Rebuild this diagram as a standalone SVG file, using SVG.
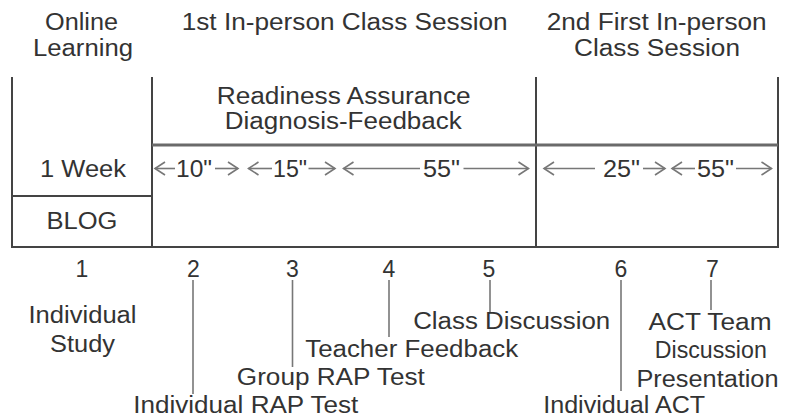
<svg xmlns="http://www.w3.org/2000/svg" width="785" height="418" viewBox="0 0 785 418">
<style>
text{font-family:"Liberation Sans",Arial,sans-serif;font-size:23px;fill:#333;text-anchor:middle}
.frame{stroke:#444;stroke-width:2;fill:none}
.band{stroke:#6a6a6a;stroke-width:3;fill:none}
.arr{stroke:#777;stroke-width:1.6;fill:none}
.lead{stroke:#777;stroke-width:1.6;fill:none}
</style>
<defs>
<marker id="head" markerUnits="userSpaceOnUse" markerWidth="14" markerHeight="16" viewBox="-11 -8 14 16" refX="0" refY="0" orient="auto-start-reverse">
<path d="M-10,-6.5 L0,0 L-10,6.5" fill="none" stroke="#777" stroke-width="1.6"/>
</marker>
</defs>
<g id="frame">
<line class="frame" x1="12" y1="77" x2="12" y2="248"/>
<line class="frame" x1="152" y1="77" x2="152" y2="248"/>
<line class="frame" x1="536" y1="77" x2="536" y2="248"/>
<line class="frame" x1="778" y1="77" x2="778" y2="248"/>
<line class="band" x1="152" y1="145" x2="778" y2="145"/>
<line class="frame" x1="12" y1="196" x2="152" y2="196"/>
<line class="frame" x1="11" y1="247" x2="779" y2="247"/>
</g>
<g id="headers">
<text x="81.5" y="30" textLength="73" lengthAdjust="spacingAndGlyphs">Online</text>
<text x="83" y="56" textLength="100" lengthAdjust="spacingAndGlyphs">Learning</text>
<text x="344.7" y="30" textLength="326" lengthAdjust="spacingAndGlyphs">1st In-person Class Session</text>
<text x="656.7" y="30" textLength="220" lengthAdjust="spacingAndGlyphs">2nd First In-person</text>
<text x="657" y="56" textLength="166" lengthAdjust="spacingAndGlyphs">Class Session</text>
</g>
<g id="readiness">
<text x="343.7" y="104" textLength="254" lengthAdjust="spacingAndGlyphs">Readiness Assurance</text>
<text x="343.3" y="129" textLength="237" lengthAdjust="spacingAndGlyphs">Diagnosis-Feedback</text>
</g>
<g id="week">
<text x="83" y="177" textLength="86" lengthAdjust="spacingAndGlyphs">1 Week</text>
</g>
<g id="blog">
<text x="82" y="229" textLength="71" lengthAdjust="spacingAndGlyphs">BLOG</text>
</g>
<g id="durations">
<text x="194" y="177" textLength="36" lengthAdjust="spacingAndGlyphs">10"</text>
<text x="290" y="177" textLength="34" lengthAdjust="spacingAndGlyphs">15"</text>
<text x="441.5" y="177" textLength="37" lengthAdjust="spacingAndGlyphs">55"</text>
<text x="621.5" y="177" textLength="37" lengthAdjust="spacingAndGlyphs">25"</text>
<text x="715.5" y="177" textLength="37" lengthAdjust="spacingAndGlyphs">55"</text>
</g>
<g id="connectors">
<line class="arr" x1="175" y1="168.5" x2="155" y2="168.5" marker-end="url(#head)"/>
<line class="arr" x1="215" y1="168.5" x2="238" y2="168.5" marker-end="url(#head)"/>
<line class="arr" x1="272" y1="168.5" x2="248.5" y2="168.5" marker-end="url(#head)"/>
<line class="arr" x1="308.5" y1="168.5" x2="335" y2="168.5" marker-end="url(#head)"/>
<line class="arr" x1="420" y1="168.5" x2="343.5" y2="168.5" marker-end="url(#head)"/>
<line class="arr" x1="463.5" y1="168.5" x2="528.5" y2="168.5" marker-end="url(#head)"/>
<line class="arr" x1="595" y1="168.5" x2="544" y2="168.5" marker-end="url(#head)"/>
<line class="arr" x1="643" y1="168.5" x2="665" y2="168.5" marker-end="url(#head)"/>
<line class="arr" x1="695" y1="168.5" x2="672" y2="168.5" marker-end="url(#head)"/>
<line class="arr" x1="736" y1="168.5" x2="771.5" y2="168.5" marker-end="url(#head)"/>
<line class="lead" x1="193" y1="280" x2="193" y2="394"/>
<line class="lead" x1="292.5" y1="280" x2="292.5" y2="367"/>
<line class="lead" x1="389" y1="280" x2="389" y2="337"/>
<line class="lead" x1="490" y1="280" x2="490" y2="312"/>
<line class="lead" x1="621" y1="280" x2="621" y2="391"/>
<line class="lead" x1="711" y1="280" x2="711" y2="310"/>
</g>
<g id="step1">
<text x="82" y="276.5">1</text>
<text x="82.5" y="323.3" textLength="108" lengthAdjust="spacingAndGlyphs">Individual</text>
<text x="82.5" y="351.5" textLength="65" lengthAdjust="spacingAndGlyphs">Study</text>
</g>
<g id="step2">
<text x="193.3" y="276.5">2</text>
<text x="245.8" y="412.5" textLength="225" lengthAdjust="spacingAndGlyphs">Individual RAP Test</text>
</g>
<g id="step3">
<text x="292.5" y="276.5">3</text>
<text x="330.8" y="385" textLength="188" lengthAdjust="spacingAndGlyphs">Group RAP Test</text>
</g>
<g id="step4">
<text x="389" y="276.5">4</text>
<text x="411.7" y="356.7" textLength="213" lengthAdjust="spacingAndGlyphs">Teacher Feedback</text>
</g>
<g id="step5">
<text x="489" y="276.5">5</text>
<text x="511.7" y="329.3" textLength="197" lengthAdjust="spacingAndGlyphs">Class Discussion</text>
</g>
<g id="step6">
<text x="621" y="276.5">6</text>
<text x="624.2" y="412.5" textLength="162" lengthAdjust="spacingAndGlyphs">Individual ACT</text>
</g>
<g id="step7">
<text x="712.5" y="276.5">7</text>
<text x="710" y="329.5" textLength="123" lengthAdjust="spacingAndGlyphs">ACT Team</text>
<text x="710.8" y="358.3" textLength="112" lengthAdjust="spacingAndGlyphs">Discussion</text>
<text x="707.5" y="386.7" textLength="142" lengthAdjust="spacingAndGlyphs">Presentation</text>
</g>
</svg>
